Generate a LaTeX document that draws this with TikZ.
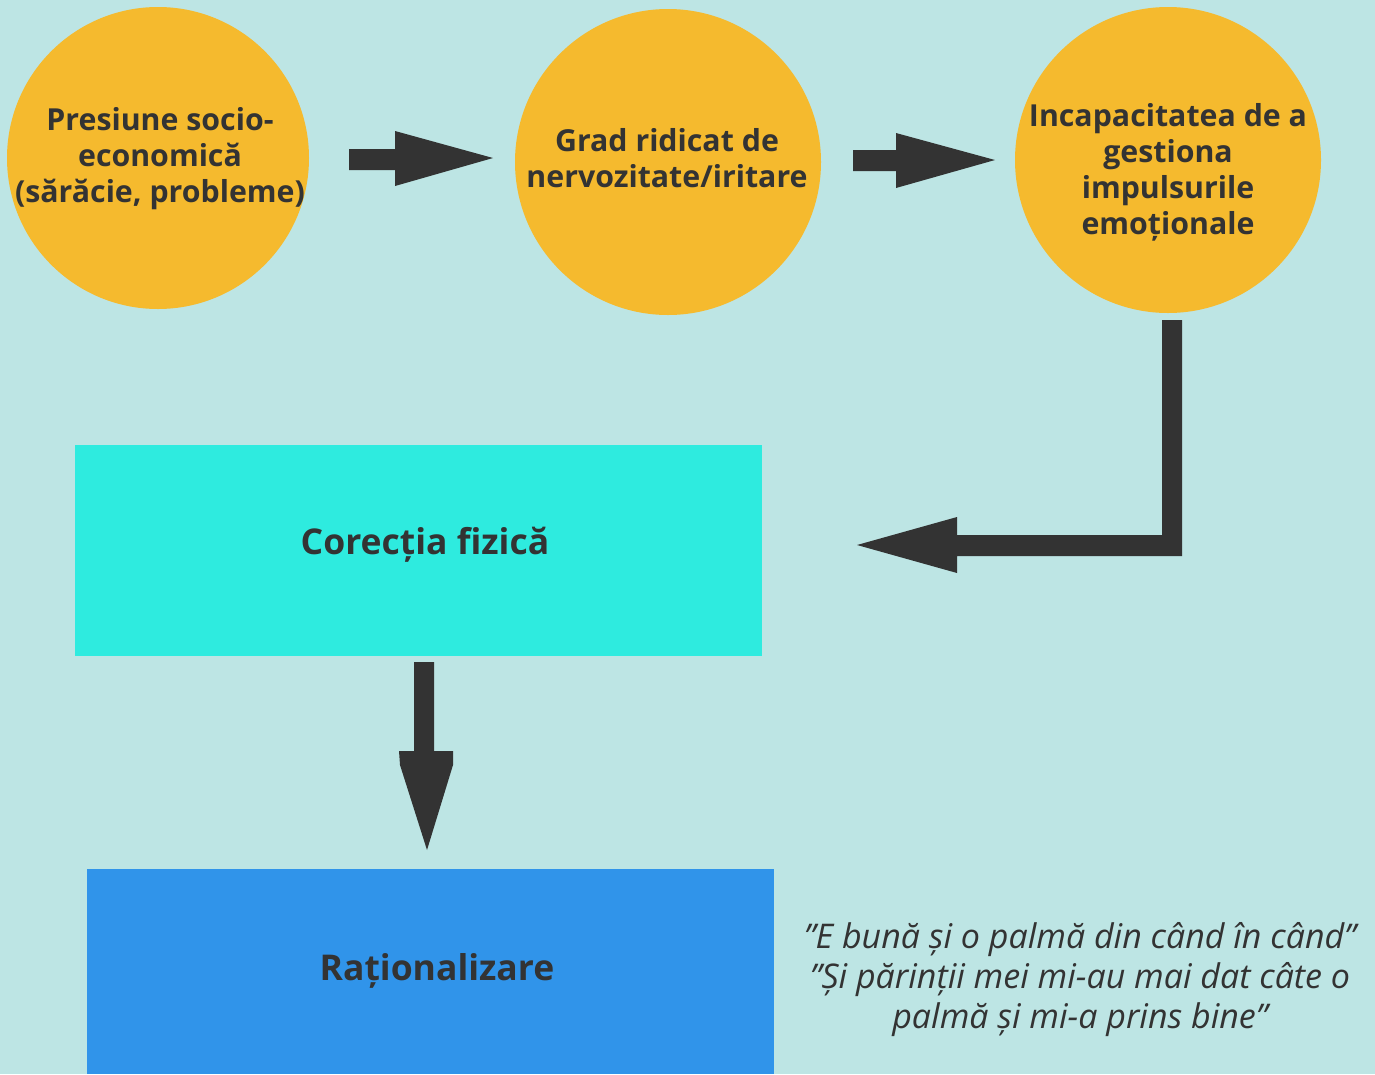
\documentclass[tikz,border=0pt]{standalone}
\usepackage{fontspec}
\setmainfont{Open Sans}
\usetikzlibrary{calc}
\definecolor{bgc}{HTML}{BDE5E4}
\definecolor{circc}{HTML}{F5BA2E}
\definecolor{cyanc}{HTML}{2EEBDF}
\definecolor{bluec}{HTML}{3094EA}
\definecolor{darkc}{HTML}{333333}
\begin{document}
\begin{tikzpicture}[x=1pt,y=-1pt,
  circ/.style={circle,fill=circc,draw=none,inner sep=0pt},
  ctext/.style={align=center,text=darkc,font=\fontsize{30.3}{36}\selectfont\bfseries},
  boxt/.style={text=darkc,font=\fontsize{35.5}{44}\selectfont\bfseries},
  arr/.style={fill=darkc,draw=none},
  quote/.style={align=center,text=darkc,font=\fontsize{34}{40}\selectfont\itshape}]
\fill[bgc] (0,0) rectangle (1375,1074);
\useasboundingbox (0,0) rectangle (1375,1074);
% circles
\node[circ,minimum size=302pt] (c1) at (158,158) {};
\node[circ,minimum size=306pt] (c2) at (668,162) {};
\node[circ,minimum size=306pt] (c3) at (1168,160) {};
\node[ctext] (t1) at (160,159) {Presiune socio-\\economică\\(sărăcie, probleme)};
\node[ctext] (t2) at (667,158) {Grad ridicat de\\nervozitate/iritare};
\node[ctext] (t3) at (1168,172) {Incapacitatea de a\\gestiona\\impulsurile\\emoționale};
% boxes
\fill[cyanc] (75,445) rectangle (762,656);
\node[boxt] (bt1) at (425,545) {Corecția fizică};
\fill[bluec] (87,869) rectangle (774,1074);
\node[boxt] (bt2) at (437,971) {Raționalizare};
\node[quote] (q) at (1080,980) {”E bună și o palmă din când în când”\\”Și părinții mei mi-au mai dat câte o\\palmă și mi-a prins bine”};
% arrow 1
\fill[arr] (349,149) -- (395,149) -- (395,131) -- (493,158) -- (395,186) -- (395,170) -- (349,170) -- cycle;
% arrow 2
\fill[arr] (853,150) -- (896,150) -- (896,133) -- (995,160) -- (896,188) -- (896,171) -- (853,171) -- cycle;
% elbow arrow
\fill[arr] (1162,320) -- (1182,320) -- (1182,556) -- (957,556) -- (957,573) -- (857,545) -- (957,517) -- (957,535) -- (1162,535) -- cycle;
% down arrow
\fill[arr] (414,662) -- (434,662) -- (434,751) -- (453,751) -- (453,765) -- (427,850) -- (400,765) -- (399,751) -- (414,751) -- cycle;
\end{tikzpicture}
\end{document}
